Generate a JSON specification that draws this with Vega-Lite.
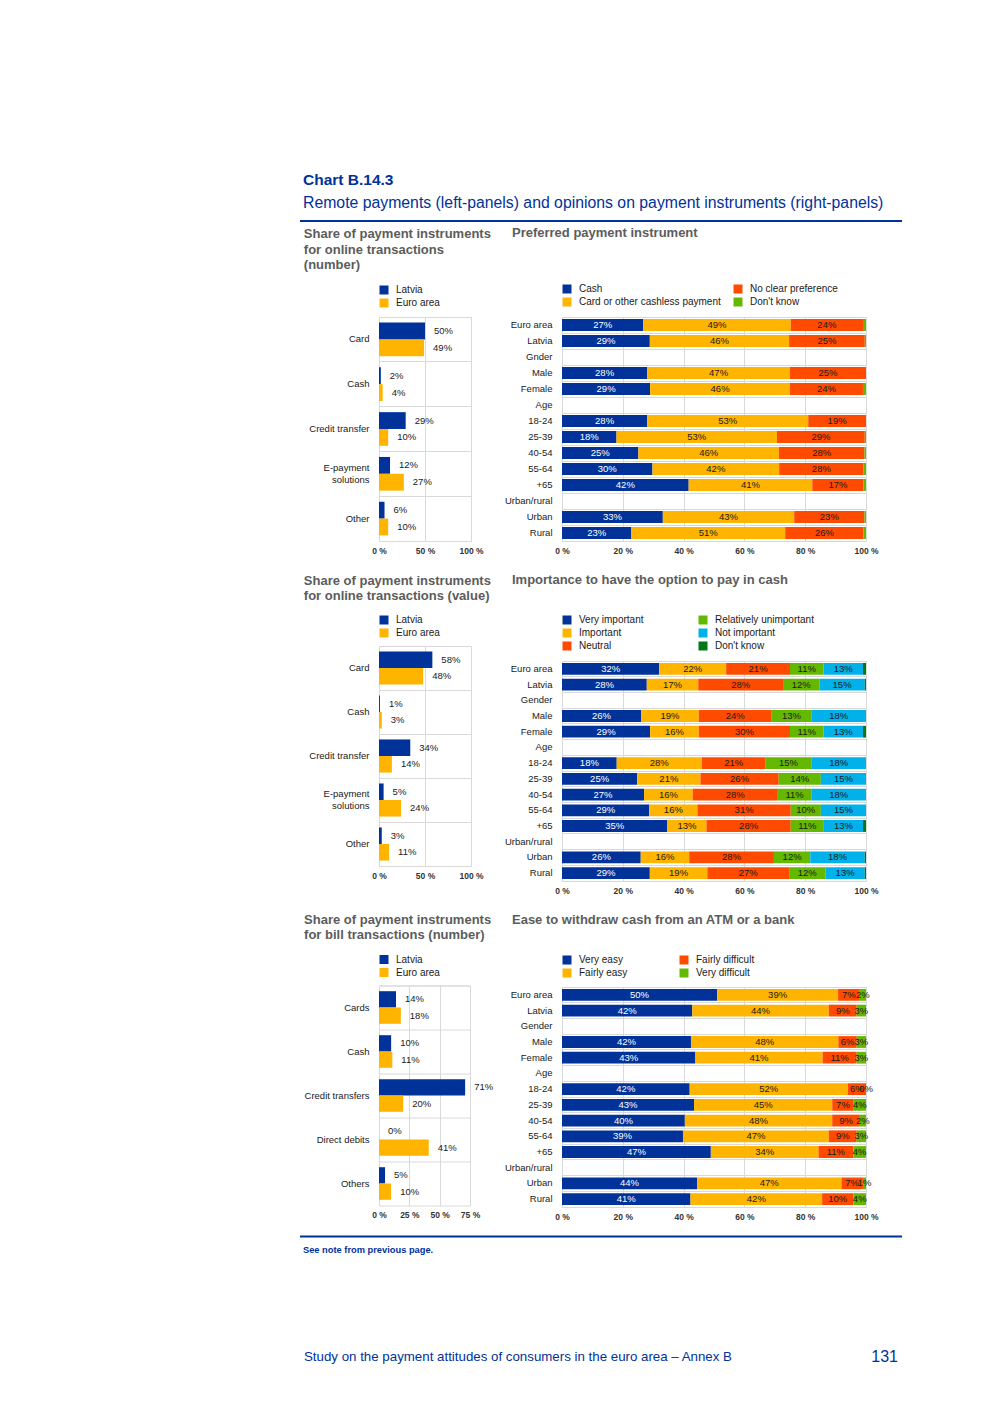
{
  "$schema": "https://vega.github.io/schema/vega-lite/v6.json",
  "background": "white",
  "padding": {"left": 299, "top": 172.5, "right": 0, "bottom": 0},
  "datasets": {
    "l1": [
      {"cat": "Card", "s": "Latvia", "v": 0.50}, {"cat": "Card", "s": "Euro area", "v": 0.49},
      {"cat": "Cash", "s": "Latvia", "v": 0.02}, {"cat": "Cash", "s": "Euro area", "v": 0.04},
      {"cat": "Credit transfer", "s": "Latvia", "v": 0.29}, {"cat": "Credit transfer", "s": "Euro area", "v": 0.10},
      {"cat": "E-payment solutions", "s": "Latvia", "v": 0.12}, {"cat": "E-payment solutions", "s": "Euro area", "v": 0.27},
      {"cat": "Other", "s": "Latvia", "v": 0.06}, {"cat": "Other", "s": "Euro area", "v": 0.10}
    ],
    "l2": [
      {"cat": "Card", "s": "Latvia", "v": 0.58}, {"cat": "Card", "s": "Euro area", "v": 0.48},
      {"cat": "Cash", "s": "Latvia", "v": 0.01}, {"cat": "Cash", "s": "Euro area", "v": 0.03},
      {"cat": "Credit transfer", "s": "Latvia", "v": 0.34}, {"cat": "Credit transfer", "s": "Euro area", "v": 0.14},
      {"cat": "E-payment solutions", "s": "Latvia", "v": 0.05}, {"cat": "E-payment solutions", "s": "Euro area", "v": 0.24},
      {"cat": "Other", "s": "Latvia", "v": 0.03}, {"cat": "Other", "s": "Euro area", "v": 0.11}
    ],
    "l3": [
      {"cat": "Cards", "s": "Latvia", "v": 0.14}, {"cat": "Cards", "s": "Euro area", "v": 0.18},
      {"cat": "Cash", "s": "Latvia", "v": 0.10}, {"cat": "Cash", "s": "Euro area", "v": 0.11},
      {"cat": "Credit transfers", "s": "Latvia", "v": 0.71}, {"cat": "Credit transfers", "s": "Euro area", "v": 0.20},
      {"cat": "Direct debits", "s": "Latvia", "v": 0.0}, {"cat": "Direct debits", "s": "Euro area", "v": 0.41},
      {"cat": "Others", "s": "Latvia", "v": 0.05}, {"cat": "Others", "s": "Euro area", "v": 0.10}
    ],
    "r1": [
      {"g": "Euro area", "c": "Cash", "k": 1, "v": 0.27}, {"g": "Euro area", "c": "Card or other cashless payment", "k": 2, "v": 0.49}, {"g": "Euro area", "c": "No clear preference", "k": 3, "v": 0.24}, {"g": "Euro area", "c": "Don't know", "k": 4, "v": 0.01},
      {"g": "Latvia", "c": "Cash", "k": 1, "v": 0.29}, {"g": "Latvia", "c": "Card or other cashless payment", "k": 2, "v": 0.46}, {"g": "Latvia", "c": "No clear preference", "k": 3, "v": 0.25}, {"g": "Latvia", "c": "Don't know", "k": 4, "v": 0.004},
      {"g": "Male", "c": "Cash", "k": 1, "v": 0.28}, {"g": "Male", "c": "Card or other cashless payment", "k": 2, "v": 0.47}, {"g": "Male", "c": "No clear preference", "k": 3, "v": 0.25}, {"g": "Male", "c": "Don't know", "k": 4, "v": 0.0},
      {"g": "Female", "c": "Cash", "k": 1, "v": 0.29}, {"g": "Female", "c": "Card or other cashless payment", "k": 2, "v": 0.46}, {"g": "Female", "c": "No clear preference", "k": 3, "v": 0.24}, {"g": "Female", "c": "Don't know", "k": 4, "v": 0.01},
      {"g": "18-24", "c": "Cash", "k": 1, "v": 0.28}, {"g": "18-24", "c": "Card or other cashless payment", "k": 2, "v": 0.53}, {"g": "18-24", "c": "No clear preference", "k": 3, "v": 0.19}, {"g": "18-24", "c": "Don't know", "k": 4, "v": 0.0},
      {"g": "25-39", "c": "Cash", "k": 1, "v": 0.18}, {"g": "25-39", "c": "Card or other cashless payment", "k": 2, "v": 0.53}, {"g": "25-39", "c": "No clear preference", "k": 3, "v": 0.29}, {"g": "25-39", "c": "Don't know", "k": 4, "v": 0.004},
      {"g": "40-54", "c": "Cash", "k": 1, "v": 0.25}, {"g": "40-54", "c": "Card or other cashless payment", "k": 2, "v": 0.46}, {"g": "40-54", "c": "No clear preference", "k": 3, "v": 0.28}, {"g": "40-54", "c": "Don't know", "k": 4, "v": 0.005},
      {"g": "55-64", "c": "Cash", "k": 1, "v": 0.30}, {"g": "55-64", "c": "Card or other cashless payment", "k": 2, "v": 0.42}, {"g": "55-64", "c": "No clear preference", "k": 3, "v": 0.28}, {"g": "55-64", "c": "Don't know", "k": 4, "v": 0.008},
      {"g": "+65", "c": "Cash", "k": 1, "v": 0.42}, {"g": "+65", "c": "Card or other cashless payment", "k": 2, "v": 0.41}, {"g": "+65", "c": "No clear preference", "k": 3, "v": 0.17}, {"g": "+65", "c": "Don't know", "k": 4, "v": 0.008},
      {"g": "Urban", "c": "Cash", "k": 1, "v": 0.33}, {"g": "Urban", "c": "Card or other cashless payment", "k": 2, "v": 0.43}, {"g": "Urban", "c": "No clear preference", "k": 3, "v": 0.23}, {"g": "Urban", "c": "Don't know", "k": 4, "v": 0.005},
      {"g": "Rural", "c": "Cash", "k": 1, "v": 0.23}, {"g": "Rural", "c": "Card or other cashless payment", "k": 2, "v": 0.51}, {"g": "Rural", "c": "No clear preference", "k": 3, "v": 0.26}, {"g": "Rural", "c": "Don't know", "k": 4, "v": 0.008}
    ],
    "r2": [
      {"g": "Euro area", "c": "Very important", "k": 1, "v": 0.32}, {"g": "Euro area", "c": "Important", "k": 2, "v": 0.22}, {"g": "Euro area", "c": "Neutral", "k": 3, "v": 0.21}, {"g": "Euro area", "c": "Relatively unimportant", "k": 4, "v": 0.11}, {"g": "Euro area", "c": "Not important", "k": 5, "v": 0.13}, {"g": "Euro area", "c": "Don't know", "k": 6, "v": 0.01},
      {"g": "Latvia", "c": "Very important", "k": 1, "v": 0.28}, {"g": "Latvia", "c": "Important", "k": 2, "v": 0.17}, {"g": "Latvia", "c": "Neutral", "k": 3, "v": 0.28}, {"g": "Latvia", "c": "Relatively unimportant", "k": 4, "v": 0.12}, {"g": "Latvia", "c": "Not important", "k": 5, "v": 0.15}, {"g": "Latvia", "c": "Don't know", "k": 6, "v": 0.004},
      {"g": "Male", "c": "Very important", "k": 1, "v": 0.26}, {"g": "Male", "c": "Important", "k": 2, "v": 0.19}, {"g": "Male", "c": "Neutral", "k": 3, "v": 0.24}, {"g": "Male", "c": "Relatively unimportant", "k": 4, "v": 0.13}, {"g": "Male", "c": "Not important", "k": 5, "v": 0.18}, {"g": "Male", "c": "Don't know", "k": 6, "v": 0.0},
      {"g": "Female", "c": "Very important", "k": 1, "v": 0.29}, {"g": "Female", "c": "Important", "k": 2, "v": 0.16}, {"g": "Female", "c": "Neutral", "k": 3, "v": 0.30}, {"g": "Female", "c": "Relatively unimportant", "k": 4, "v": 0.11}, {"g": "Female", "c": "Not important", "k": 5, "v": 0.13}, {"g": "Female", "c": "Don't know", "k": 6, "v": 0.01},
      {"g": "18-24", "c": "Very important", "k": 1, "v": 0.18}, {"g": "18-24", "c": "Important", "k": 2, "v": 0.28}, {"g": "18-24", "c": "Neutral", "k": 3, "v": 0.21}, {"g": "18-24", "c": "Relatively unimportant", "k": 4, "v": 0.15}, {"g": "18-24", "c": "Not important", "k": 5, "v": 0.18}, {"g": "18-24", "c": "Don't know", "k": 6, "v": 0.0},
      {"g": "25-39", "c": "Very important", "k": 1, "v": 0.25}, {"g": "25-39", "c": "Important", "k": 2, "v": 0.21}, {"g": "25-39", "c": "Neutral", "k": 3, "v": 0.26}, {"g": "25-39", "c": "Relatively unimportant", "k": 4, "v": 0.14}, {"g": "25-39", "c": "Not important", "k": 5, "v": 0.15}, {"g": "25-39", "c": "Don't know", "k": 6, "v": 0.0},
      {"g": "40-54", "c": "Very important", "k": 1, "v": 0.27}, {"g": "40-54", "c": "Important", "k": 2, "v": 0.16}, {"g": "40-54", "c": "Neutral", "k": 3, "v": 0.28}, {"g": "40-54", "c": "Relatively unimportant", "k": 4, "v": 0.11}, {"g": "40-54", "c": "Not important", "k": 5, "v": 0.18}, {"g": "40-54", "c": "Don't know", "k": 6, "v": 0.0},
      {"g": "55-64", "c": "Very important", "k": 1, "v": 0.29}, {"g": "55-64", "c": "Important", "k": 2, "v": 0.16}, {"g": "55-64", "c": "Neutral", "k": 3, "v": 0.31}, {"g": "55-64", "c": "Relatively unimportant", "k": 4, "v": 0.10}, {"g": "55-64", "c": "Not important", "k": 5, "v": 0.15}, {"g": "55-64", "c": "Don't know", "k": 6, "v": 0.0},
      {"g": "+65", "c": "Very important", "k": 1, "v": 0.35}, {"g": "+65", "c": "Important", "k": 2, "v": 0.13}, {"g": "+65", "c": "Neutral", "k": 3, "v": 0.28}, {"g": "+65", "c": "Relatively unimportant", "k": 4, "v": 0.11}, {"g": "+65", "c": "Not important", "k": 5, "v": 0.13}, {"g": "+65", "c": "Don't know", "k": 6, "v": 0.01},
      {"g": "Urban", "c": "Very important", "k": 1, "v": 0.26}, {"g": "Urban", "c": "Important", "k": 2, "v": 0.16}, {"g": "Urban", "c": "Neutral", "k": 3, "v": 0.28}, {"g": "Urban", "c": "Relatively unimportant", "k": 4, "v": 0.12}, {"g": "Urban", "c": "Not important", "k": 5, "v": 0.18}, {"g": "Urban", "c": "Don't know", "k": 6, "v": 0.004},
      {"g": "Rural", "c": "Very important", "k": 1, "v": 0.29}, {"g": "Rural", "c": "Important", "k": 2, "v": 0.19}, {"g": "Rural", "c": "Neutral", "k": 3, "v": 0.27}, {"g": "Rural", "c": "Relatively unimportant", "k": 4, "v": 0.12}, {"g": "Rural", "c": "Not important", "k": 5, "v": 0.13}, {"g": "Rural", "c": "Don't know", "k": 6, "v": 0.004}
    ],
    "r3": [
      {"g": "Euro area", "c": "Very easy", "k": 1, "v": 0.50}, {"g": "Euro area", "c": "Fairly easy", "k": 2, "v": 0.39}, {"g": "Euro area", "c": "Fairly difficult", "k": 3, "v": 0.07}, {"g": "Euro area", "c": "Very difficult", "k": 4, "v": 0.02},
      {"g": "Latvia", "c": "Very easy", "k": 1, "v": 0.42}, {"g": "Latvia", "c": "Fairly easy", "k": 2, "v": 0.44}, {"g": "Latvia", "c": "Fairly difficult", "k": 3, "v": 0.09}, {"g": "Latvia", "c": "Very difficult", "k": 4, "v": 0.03},
      {"g": "Male", "c": "Very easy", "k": 1, "v": 0.42}, {"g": "Male", "c": "Fairly easy", "k": 2, "v": 0.48}, {"g": "Male", "c": "Fairly difficult", "k": 3, "v": 0.06}, {"g": "Male", "c": "Very difficult", "k": 4, "v": 0.03},
      {"g": "Female", "c": "Very easy", "k": 1, "v": 0.43}, {"g": "Female", "c": "Fairly easy", "k": 2, "v": 0.41}, {"g": "Female", "c": "Fairly difficult", "k": 3, "v": 0.11}, {"g": "Female", "c": "Very difficult", "k": 4, "v": 0.03},
      {"g": "18-24", "c": "Very easy", "k": 1, "v": 0.42}, {"g": "18-24", "c": "Fairly easy", "k": 2, "v": 0.52}, {"g": "18-24", "c": "Fairly difficult", "k": 3, "v": 0.06}, {"g": "18-24", "c": "Very difficult", "k": 4, "v": 0.0},
      {"g": "25-39", "c": "Very easy", "k": 1, "v": 0.43}, {"g": "25-39", "c": "Fairly easy", "k": 2, "v": 0.45}, {"g": "25-39", "c": "Fairly difficult", "k": 3, "v": 0.07}, {"g": "25-39", "c": "Very difficult", "k": 4, "v": 0.04},
      {"g": "40-54", "c": "Very easy", "k": 1, "v": 0.40}, {"g": "40-54", "c": "Fairly easy", "k": 2, "v": 0.48}, {"g": "40-54", "c": "Fairly difficult", "k": 3, "v": 0.09}, {"g": "40-54", "c": "Very difficult", "k": 4, "v": 0.02},
      {"g": "55-64", "c": "Very easy", "k": 1, "v": 0.39}, {"g": "55-64", "c": "Fairly easy", "k": 2, "v": 0.47}, {"g": "55-64", "c": "Fairly difficult", "k": 3, "v": 0.09}, {"g": "55-64", "c": "Very difficult", "k": 4, "v": 0.03},
      {"g": "+65", "c": "Very easy", "k": 1, "v": 0.47}, {"g": "+65", "c": "Fairly easy", "k": 2, "v": 0.34}, {"g": "+65", "c": "Fairly difficult", "k": 3, "v": 0.11}, {"g": "+65", "c": "Very difficult", "k": 4, "v": 0.04},
      {"g": "Urban", "c": "Very easy", "k": 1, "v": 0.44}, {"g": "Urban", "c": "Fairly easy", "k": 2, "v": 0.47}, {"g": "Urban", "c": "Fairly difficult", "k": 3, "v": 0.07}, {"g": "Urban", "c": "Very difficult", "k": 4, "v": 0.01},
      {"g": "Rural", "c": "Very easy", "k": 1, "v": 0.41}, {"g": "Rural", "c": "Fairly easy", "k": 2, "v": 0.42}, {"g": "Rural", "c": "Fairly difficult", "k": 3, "v": 0.10}, {"g": "Rural", "c": "Very difficult", "k": 4, "v": 0.04}
    ],
    "line": [{"a": 0, "b": 1}],
    "foot1": [{"t": "Study on the payment attitudes of consumers in the euro area – Annex B", "p": 0}],
    "foot2": [{"t": "131", "p": 1}]
  },
  "config": {
    "font": "Liberation Sans",
    "view": {"stroke": "#d9d9d9", "strokeWidth": 1},
    "axis": {"domain": false, "ticks": false, "gridColor": "#d9d9d9", "gridWidth": 1},
    "axisX": {"labelFontSize": 8.5, "labelFontWeight": "bold", "labelColor": "#333333", "labelPadding": 5, "grid": true, "labelFlush": false, "labelOverlap": false},
    "axisY": {"labelFontSize": 9.5, "labelColor": "#1a1a1a", "labelPadding": 10, "grid": true},
    "legend": {"orient": "top", "symbolType": "square", "symbolSize": 81, "symbolStrokeWidth": 0, "symbolOpacity": 1, "labelFontSize": 10, "labelColor": "#1a1a1a", "labelOffset": 7, "rowPadding": 3, "padding": 0},
    "title": {"anchor": "start", "frame": "bounds", "fontSize": 13, "fontWeight": "bold", "color": "#5c5c5c", "lineHeight": 15.5}
  },
  "spacing": 92.5,
  "resolve": {"scale": {"color": "independent", "yOffset": "independent"}},
  "vconcat": [
    {
      "spacing": 13.5,
      "resolve": {"scale": {"color": "independent", "yOffset": "independent"}},
      "vconcat": [
        {
          "spacing": 3.5,
          "resolve": {"scale": {"color": "independent", "yOffset": "independent"}},
          "vconcat": [
            {
              "width": 523, "height": 1,
              "view": {"stroke": null},
              "title": {"text": "Chart B.14.3", "subtitle": "Remote payments (left-panels) and opinions on payment instruments (right-panels)", "fontSize": 15.5, "color": "#003299", "subtitleFontSize": 15.8, "subtitleColor": "#003299", "subtitleFont": "Liberation Sans", "subtitlePadding": 8, "offset": 9, "dx": 4},
              "data": {"name": "line"},
              "mark": {"type": "rule", "color": "#003299", "strokeWidth": 2},
              "encoding": {
                "x": {"field": "a", "type": "quantitative", "scale": {"domain": [0, 1], "range": [-79, 523]}, "axis": null},
                "x2": {"field": "b"}
              }
            },
            {
              "spacing": 9,
              "resolve": {"scale": {"color": "independent", "yOffset": "independent"}},
              "hconcat": [
                {
                  "spacing": 32.5,
                  "resolve": {"scale": {"color": "independent", "yOffset": "independent"}},
                  "vconcat": [
                    {
                      "spacing": 19,
                      "resolve": {"scale": {"color": "independent", "yOffset": "independent"}},
                      "vconcat": [
                        {
                          "width": 92, "height": 224,
                          "title": {"text": ["Share of payment instruments", "for online transactions", "(number)"], "offset": 13, "dx": -5},
                          "data": {"name": "l1"},
                          "encoding": {
                            "y": {"field": "cat", "type": "nominal", "title": null, "sort": ["Card", "Cash", "Credit transfer", "E-payment solutions", "Other"], "scale": {"paddingInner": 0, "paddingOuter": 0}, "axis": {"grid": true, "bandPosition": 0, "labelLineHeight": 12, "labelOffset": {"condition": {"test": "datum.label == 'E-payment solutions'", "value": -6}, "value": 0}, "labelExpr": "datum.label == 'E-payment solutions' ? ['E-payment', 'solutions'] : datum.label"}},
                            "yOffset": {"field": "s", "type": "nominal", "sort": ["Latvia", "Euro area"], "scale": {"paddingInner": 0, "paddingOuter": 0.33}},
                            "x": {"field": "v", "type": "quantitative", "title": null, "scale": {"domain": [0, 1]}, "axis": {"values": [0, 0.5, 1], "labelExpr": "round(datum.value*100) + ' %'"}}
                          },
                          "layer": [
                            {"mark": "bar", "encoding": {"color": {"field": "s", "type": "nominal", "title": null, "scale": {"domain": ["Latvia", "Euro area"], "range": ["#003299", "#FFB400"]}, "legend": {"direction": "vertical", "offset": 9.5}}}},
                            {"mark": {"type": "text", "align": "left", "dx": 9, "fontSize": 9.5, "color": "#1a1a1a"}, "encoding": {"text": {"field": "v", "type": "quantitative", "format": ".0%"}}}
                          ]
                        },
                        {
                          "width": 92, "height": 220,
                          "title": {"text": ["Share of payment instruments", "for online transactions (value)"], "offset": 12, "dx": -5},
                          "data": {"name": "l2"},
                          "encoding": {
                            "y": {"field": "cat", "type": "nominal", "title": null, "sort": ["Card", "Cash", "Credit transfer", "E-payment solutions", "Other"], "scale": {"paddingInner": 0, "paddingOuter": 0}, "axis": {"grid": true, "bandPosition": 0, "labelLineHeight": 12, "labelOffset": {"condition": {"test": "datum.label == 'E-payment solutions'", "value": -6}, "value": 0}, "labelExpr": "datum.label == 'E-payment solutions' ? ['E-payment', 'solutions'] : datum.label"}},
                            "yOffset": {"field": "s", "type": "nominal", "sort": ["Latvia", "Euro area"], "scale": {"paddingInner": 0, "paddingOuter": 0.33}},
                            "x": {"field": "v", "type": "quantitative", "title": null, "scale": {"domain": [0, 1]}, "axis": {"values": [0, 0.5, 1], "labelExpr": "round(datum.value*100) + ' %'"}}
                          },
                          "layer": [
                            {"mark": "bar", "encoding": {"color": {"field": "s", "type": "nominal", "title": null, "scale": {"domain": ["Latvia", "Euro area"], "range": ["#003299", "#FFB400"]}, "legend": {"direction": "vertical", "offset": 8.5}}}},
                            {"mark": {"type": "text", "align": "left", "dx": 9, "fontSize": 9.5, "color": "#1a1a1a"}, "encoding": {"text": {"field": "v", "type": "quantitative", "format": ".0%"}}}
                          ]
                        }
                      ]
                    },
                    {
                      "width": 91, "height": 220,
                      "title": {"text": ["Share of payment instruments", "for bill transactions (number)"], "offset": 12.5, "dx": 0},
                      "data": {"name": "l3"},
                      "encoding": {
                        "y": {"field": "cat", "type": "nominal", "title": null, "sort": ["Cards", "Cash", "Credit transfers", "Direct debits", "Others"], "scale": {"paddingInner": 0, "paddingOuter": 0}, "axis": {"grid": true, "bandPosition": 0}},
                        "yOffset": {"field": "s", "type": "nominal", "sort": ["Latvia", "Euro area"], "scale": {"paddingInner": 0, "paddingOuter": 0.35}},
                        "x": {"field": "v", "type": "quantitative", "title": null, "scale": {"domain": [0, 0.75]}, "axis": {"values": [0, 0.25, 0.5, 0.75], "labelExpr": "round(datum.value*100) + ' %'"}}
                      },
                      "layer": [
                        {"mark": "bar", "encoding": {"color": {"field": "s", "type": "nominal", "title": null, "scale": {"domain": ["Latvia", "Euro area"], "range": ["#003299", "#FFB400"]}, "legend": {"direction": "vertical", "offset": 8.5}}}},
                        {"mark": {"type": "text", "align": "left", "dx": 9, "fontSize": 9.5, "color": "#1a1a1a"}, "encoding": {"text": {"field": "v", "type": "quantitative", "format": ".0%"}}}
                      ]
                    }
                  ]
                },
                {
                  "spacing": 18,
                  "resolve": {"scale": {"color": "independent", "yOffset": "independent"}},
                  "vconcat": [
                    {
                      "width": 304, "height": 224,
                      "title": {"text": "Preferred payment instrument", "offset": 44.5, "dx": 7.5},
                      "data": {"name": "r1"},
                      "encoding": {
                        "y": {"field": "g", "type": "nominal", "title": null, "scale": {"domain": ["Euro area", "Latvia", "Gnder", "Male", "Female", "Age", "18-24", "25-39", "40-54", "55-64", "+65", "Urban/rural", "Urban", "Rural"], "paddingInner": 0, "paddingOuter": 0}, "axis": {"grid": true, "bandPosition": 0}}
                      },
                      "layer": [
                        {
                          "mark": {"type": "bar", "height": {"band": 0.75}},
                          "encoding": {
                            "x": {"field": "v", "type": "quantitative", "stack": "normalize", "title": null, "scale": {"domain": [0, 1]}, "axis": {"values": [0, 0.2, 0.4, 0.6, 0.8, 1], "labelExpr": "round(datum.value*100) + ' %'"}},
                            "color": {"field": "c", "type": "nominal", "title": null, "scale": {"domain": ["Cash", "No clear preference", "Card or other cashless payment", "Don't know"], "range": ["#003299", "#FF4B00", "#FFB400", "#65B800"]}, "legend": {"columns": 2, "columnPadding": 12, "offset": 10}},
                            "order": {"field": "k", "type": "quantitative"}
                          }
                        },
                        {
                          "mark": {"type": "text", "fontSize": 9.5},
                          "encoding": {
                            "x": {"field": "v", "type": "quantitative", "stack": "normalize", "bandPosition": 0.5, "title": null, "scale": {"domain": [0, 1]}, "axis": {"values": [0, 0.2, 0.4, 0.6, 0.8, 1], "labelExpr": "round(datum.value*100) + ' %'"}},
                            "detail": {"field": "c", "type": "nominal"},
                            "order": {"field": "k", "type": "quantitative"},
                            "text": {"condition": {"test": "datum.v < 0.015", "value": ""}, "field": "v", "type": "quantitative", "format": ".0%"},
                            "color": {"condition": {"test": "datum.k == 1", "value": "white"}, "value": "#1a1a1a"}
                          }
                        }
                      ]
                    },
                    {
                      "width": 304, "height": 220,
                      "title": {"text": "Importance to have the option to pay in cash", "offset": 28.5, "dx": 7.5},
                      "data": {"name": "r2"},
                      "encoding": {
                        "y": {"field": "g", "type": "nominal", "title": null, "scale": {"domain": ["Euro area", "Latvia", "Gender", "Male", "Female", "Age", "18-24", "25-39", "40-54", "55-64", "+65", "Urban/rural", "Urban", "Rural"], "paddingInner": 0, "paddingOuter": 0}, "axis": {"grid": true, "bandPosition": 0}}
                      },
                      "layer": [
                        {
                          "mark": {"type": "bar", "height": {"band": 0.75}},
                          "encoding": {
                            "x": {"field": "v", "type": "quantitative", "stack": "normalize", "title": null, "scale": {"domain": [0, 1]}, "axis": {"values": [0, 0.2, 0.4, 0.6, 0.8, 1], "labelExpr": "round(datum.value*100) + ' %'"}},
                            "color": {"field": "c", "type": "nominal", "title": null, "scale": {"domain": ["Very important", "Relatively unimportant", "Important", "Not important", "Neutral", "Don't know"], "range": ["#003299", "#65B800", "#FFB400", "#00B1EA", "#FF4B00", "#007816"]}, "legend": {"columns": 2, "columnPadding": 54, "offset": 10}},
                            "order": {"field": "k", "type": "quantitative"}
                          }
                        },
                        {
                          "mark": {"type": "text", "fontSize": 9.5},
                          "encoding": {
                            "x": {"field": "v", "type": "quantitative", "stack": "normalize", "bandPosition": 0.5, "title": null, "scale": {"domain": [0, 1]}, "axis": {"values": [0, 0.2, 0.4, 0.6, 0.8, 1], "labelExpr": "round(datum.value*100) + ' %'"}},
                            "detail": {"field": "c", "type": "nominal"},
                            "order": {"field": "k", "type": "quantitative"},
                            "text": {"condition": {"test": "datum.v < 0.015", "value": ""}, "field": "v", "type": "quantitative", "format": ".0%"},
                            "color": {"condition": {"test": "datum.k == 1", "value": "white"}, "value": "#1a1a1a"}
                          }
                        }
                      ]
                    },
                    {
                      "width": 304, "height": 220,
                      "title": {"text": "Ease to withdraw cash from an ATM or a bank", "offset": 28.5, "dx": 7.5},
                      "data": {"name": "r3"},
                      "encoding": {
                        "y": {"field": "g", "type": "nominal", "title": null, "scale": {"domain": ["Euro area", "Latvia", "Gender", "Male", "Female", "Age", "18-24", "25-39", "40-54", "55-64", "+65", "Urban/rural", "Urban", "Rural"], "paddingInner": 0, "paddingOuter": 0}, "axis": {"grid": true, "bandPosition": 0}}
                      },
                      "layer": [
                        {
                          "mark": {"type": "bar", "height": {"band": 0.75}},
                          "encoding": {
                            "x": {"field": "v", "type": "quantitative", "stack": "normalize", "title": null, "scale": {"domain": [0, 1]}, "axis": {"values": [0, 0.2, 0.4, 0.6, 0.8, 1], "labelExpr": "round(datum.value*100) + ' %'"}},
                            "color": {"field": "c", "type": "nominal", "title": null, "scale": {"domain": ["Very easy", "Fairly difficult", "Fairly easy", "Very difficult"], "range": ["#003299", "#FF4B00", "#FFB400", "#65B800"]}, "legend": {"columns": 2, "columnPadding": 51, "offset": 9}},
                            "order": {"field": "k", "type": "quantitative"}
                          }
                        },
                        {
                          "mark": {"type": "text", "fontSize": 9.5},
                          "encoding": {
                            "x": {"field": "v", "type": "quantitative", "stack": "normalize", "bandPosition": 0.5, "title": null, "scale": {"domain": [0, 1]}, "axis": {"values": [0, 0.2, 0.4, 0.6, 0.8, 1], "labelExpr": "round(datum.value*100) + ' %'"}},
                            "detail": {"field": "c", "type": "nominal"},
                            "order": {"field": "k", "type": "quantitative"},
                            "text": {"field": "v", "type": "quantitative", "format": ".0%"},
                            "color": {"condition": {"test": "datum.k == 1", "value": "white"}, "value": "#1a1a1a"}
                          }
                        }
                      ]
                    }
                  ]
                }
              ]
            }
          ]
        },
        {
          "width": 523, "height": 1,
          "view": {"stroke": null},
          "title": {"text": "See note from previous page.", "orient": "bottom", "fontSize": 9.3, "color": "#003299", "offset": 8, "dx": 4},
          "data": {"name": "line"},
          "mark": {"type": "rule", "color": "#003299", "strokeWidth": 2},
          "encoding": {
            "x": {"field": "a", "type": "quantitative", "scale": {"domain": [0, 1], "range": [-79, 523]}, "axis": null},
            "x2": {"field": "b"}
          }
        }
      ]
    },
    {
      "width": 523, "height": 1,
      "view": {"stroke": null},
      "layer": [
        {
          "data": {"name": "foot1"},
          "mark": {"type": "text", "align": "left", "fontSize": 13.3, "color": "#003299"},
          "encoding": {
            "x": {"field": "p", "type": "quantitative", "scale": {"domain": [0, 1], "range": [-75, 519]}, "axis": null},
            "text": {"field": "t", "type": "nominal"}
          }
        },
        {
          "data": {"name": "foot2"},
          "mark": {"type": "text", "align": "right", "fontSize": 16, "color": "#003299"},
          "encoding": {
            "x": {"field": "p", "type": "quantitative", "axis": null},
            "text": {"field": "t", "type": "nominal"}
          }
        }
      ]
    }
  ]
}
